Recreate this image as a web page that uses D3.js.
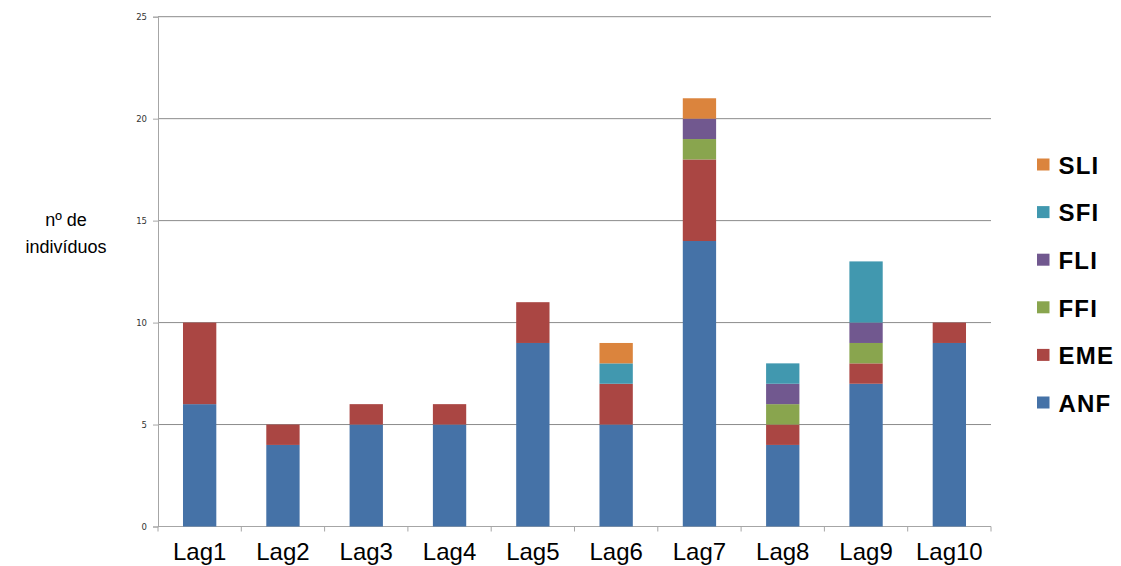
<!DOCTYPE html>
<html>
<head>
<meta charset="utf-8">
<script src="https://cdn.jsdelivr.net/npm/d3@7/dist/d3.min.js"></script>
<style>
  html, body { margin: 0; padding: 0; background: #fff; }
  svg { display: block; }
</style>
</head>
<body>
<svg id="chart" width="1121" height="566"></svg>
<script>
// Sites and counts per group (stacked bottom to top: ANF, EME, FFI, FLI, SFI, SLI)
const categories = ["Lag1", "Lag2", "Lag3", "Lag4", "Lag5", "Lag6", "Lag7", "Lag8", "Lag9", "Lag10"];
const ANF = [6, 4, 5, 5, 9, 5, 14, 4, 7, 9];
const EME = [4, 1, 1, 1, 2, 2, 4, 1, 1, 1];
const FFI = [0, 0, 0, 0, 0, 0, 1, 1, 1, 0];
const FLI = [0, 0, 0, 0, 0, 0, 1, 1, 1, 0];
const SFI = [0, 0, 0, 0, 0, 1, 0, 1, 3, 0];
const SLI = [0, 0, 0, 0, 0, 1, 1, 0, 0, 0];
const seriesNames = ["ANF", "EME", "FFI", "FLI", "SFI", "SLI"];
const seriesValues = [ANF, EME, FFI, FLI, SFI, SLI];
const colors = ["#4572A7", "#AA4643", "#89A54E", "#71588F", "#4198AF", "#DB843D"];
const yTicks = [0, 5, 10, 15, 20, 25];

const svg = d3.select("#chart");
const plotLeft = 158, plotRight = 991, plotTop = 16.7, plotBottom = 526.5;

const x = d3.scaleBand().domain(categories).range([plotLeft, plotRight]).padding(0);
const y = d3.scaleLinear().domain([0, 25]).range([plotBottom, plotTop]);

const rows = categories.map((c, i) => {
  const r = { cat: c };
  seriesNames.forEach((s, k) => r[s] = seriesValues[k][i]);
  return r;
});
const stacked = d3.stack().keys(seriesNames)(rows);

// horizontal gridlines
svg.append("g")
  .selectAll("line")
  .data(yTicks.filter(d => d > 0))
  .join("line")
  .attr("x1", plotLeft).attr("x2", plotRight)
  .attr("y1", d => y(d)).attr("y2", d => y(d))
  .attr("stroke", "#8c8c8c").attr("stroke-width", 1);

// y axis
const yAxis = svg.append("g")
  .attr("transform", `translate(${plotLeft},0)`)
  .call(d3.axisLeft(y).tickValues(yTicks).tickSize(5).tickPadding(6));
yAxis.select(".domain").attr("stroke", "#a6a6a6");
yAxis.selectAll(".tick line").attr("stroke", "#a6a6a6");
yAxis.selectAll(".tick text")
  .attr("font-family", "DejaVu Sans, sans-serif")
  .attr("font-size", 8.5).attr("fill", "#333");

// x axis with ticks between categories
const boundaries = categories.map(c => x(c)).concat([plotRight]);
const xg = svg.append("g");
xg.append("line")
  .attr("x1", plotLeft).attr("x2", plotRight)
  .attr("y1", plotBottom).attr("y2", plotBottom)
  .attr("stroke", "#a6a6a6");
xg.selectAll("line.tk")
  .data(boundaries)
  .join("line").attr("class", "tk")
  .attr("x1", d => d).attr("x2", d => d)
  .attr("y1", plotBottom).attr("y2", plotBottom + 5)
  .attr("stroke", "#a6a6a6");
xg.selectAll("text")
  .data(categories)
  .join("text")
  .attr("x", d => x(d) + x.bandwidth() / 2)
  .attr("y", 560)
  .attr("text-anchor", "middle")
  .attr("font-family", "Liberation Sans, Arial, sans-serif")
  .attr("font-size", 24)
  .attr("fill", "#000")
  .text(d => d);

// stacked bars
const barW = x.bandwidth() * 0.4;
svg.append("g")
  .selectAll("g")
  .data(stacked)
  .join("g")
  .attr("fill", (d, i) => colors[i])
  .selectAll("rect")
  .data(d => d.filter(p => p[1] - p[0] > 0))
  .join("rect")
  .attr("x", d => x(d.data.cat) + (x.bandwidth() - barW) / 2)
  .attr("width", barW)
  .attr("y", d => y(d[1]))
  .attr("height", d => y(d[0]) - y(d[1]));

// y axis title
const title = svg.append("text")
  .attr("text-anchor", "middle")
  .attr("font-family", "Liberation Sans, Arial, sans-serif")
  .attr("font-size", 18)
  .attr("fill", "#000");
title.append("tspan").attr("x", 66).attr("y", 226).text("nº de");
title.append("tspan").attr("x", 66).attr("y", 253).text("indivíduos");

// legend, top item is the last series
const legendY0 = 164.5, legendStep = 47.6;
const legend = svg.append("g")
  .selectAll("g")
  .data(seriesNames.slice().reverse())
  .join("g")
  .attr("transform", (d, i) => `translate(1037,${legendY0 + i * legendStep})`);
legend.append("rect")
  .attr("x", 0).attr("y", -6).attr("width", 12.5).attr("height", 12)
  .attr("fill", d => colors[seriesNames.indexOf(d)]);
legend.append("text")
  .attr("x", 21.5).attr("y", 9.3)
  .attr("font-family", "Liberation Sans, Arial, sans-serif")
  .attr("font-weight", "bold")
  .attr("font-size", 24)
  .attr("letter-spacing", 1.2)
  .attr("fill", "#000")
  .text(d => d);
</script>
</body>
</html>
